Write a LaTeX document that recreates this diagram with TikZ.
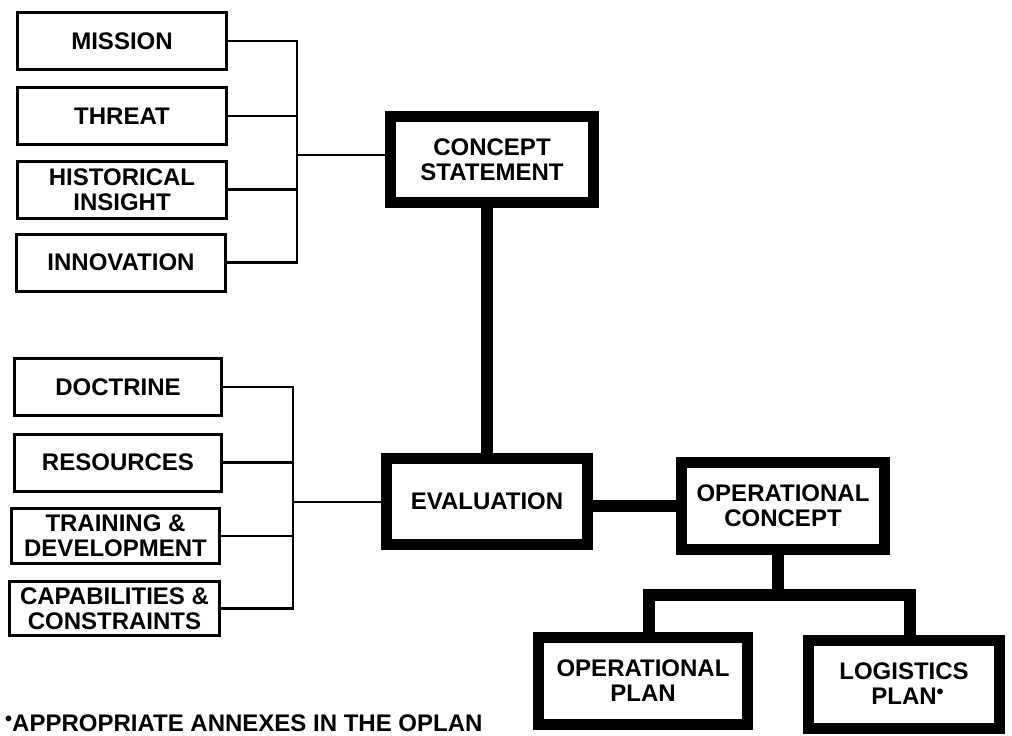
\documentclass[tikz,border=0pt]{standalone}
\usepackage{fontspec}
\setmainfont{Liberation Sans}
\newcommand\lblfont{\fontsize{24}{25}\selectfont\bfseries}
\newcommand\raisedot{\raisebox{6pt}{\fontsize{20}{20}\selectfont •}}
\begin{document}
\begin{tikzpicture}[x=1pt,y=-1pt,
  thinbox/.style={draw, line width=3pt, fill=white, inner sep=0pt, align=center, font=\lblfont, minimum width=209pt, minimum height=57pt},
  thickbox/.style={draw, line width=11pt, fill=white, inner sep=0pt, align=center, font=\lblfont},
  thinline/.style={line width=2.5pt},
  thickline/.style={line width=12pt, line join=miter},
]
\useasboundingbox (0,0) rectangle (1012,736);
\clip (0,0) rectangle (1012,736);
\fill[white] (0,0) rectangle (1012,736);

% junctions
\coordinate (j1) at (297,155);
\coordinate (j2) at (293,502);
\coordinate (jb) at (778,595);
\coordinate (bl) at (649,595);
\coordinate (br) at (910,595);

% thin boxes, upper group
\node[thinbox] (mission) at (122,41) {MISSION};
\node[thinbox] (threat) at (122,116) {THREAT};
\node[thinbox] (hist) at (122,189.5) {HISTORICAL\\INSIGHT};
\node[thinbox] (innov) at (121,262.5) {INNOVATION};

% thin boxes, lower group
\node[thinbox, minimum width=207pt] (doctrine) at (118,387) {DOCTRINE};
\node[thinbox, minimum width=207pt] (resources) at (118,462.5) {RESOURCES};
\node[thinbox, minimum width=208pt, minimum height=55pt] (training) at (115.5,536) {TRAINING \&\\DEVELOPMENT};
\node[thinbox, minimum width=210pt, minimum height=54pt] (capab) at (114.5,608.5) {CAPABILITIES \&\\CONSTRAINTS};

% thick boxes
\node[thickbox, minimum width=203pt, minimum height=86pt] (concept) at (492,159.5) {CONCEPT\\STATEMENT};
\node[thickbox, minimum width=201pt, minimum height=86pt] (eval) at (487,501.5) {EVALUATION};
\node[thickbox, minimum width=203pt, minimum height=87pt] (opconc) at (783,506) {OPERATIONAL\\CONCEPT};
\node[thickbox, minimum width=209pt, minimum height=87pt] (opplan) at (643,681) {OPERATIONAL\\PLAN};
\node[thickbox, minimum width=191pt, minimum height=88pt] (logis) at (904,684) {LOGISTICS\\PLAN\rlap{\raisedot}};

% thin connectors
\draw[thinline] (mission.east) -| (j1);
\draw[thinline] (threat.east) -- (threat.east -| j1);
\draw[thinline] (hist.east) -- (hist.east -| j1);
\draw[thinline] (innov.east) -| (j1);
\draw[thinline] (j1) -- (j1 -| concept.west);

\draw[thinline] (doctrine.east) -| (j2);
\draw[thinline] (resources.east) -- (resources.east -| j2);
\draw[thinline] (training.east) -- (training.east -| j2);
\draw[thinline] (capab.east) -| (j2);
\draw[thinline] (j2) -- (j2 -| eval.west);

% thick connectors
\draw[thickline] (eval.north) -- (eval.north |- concept.south);
\draw[thickline] (eval.east |- opconc.west) -- (opconc.west);
\draw[thickline] (jb |- opconc.south) -- (jb);
\draw[thickline] (bl |- opplan.north) -- (bl) -- (br) -- (br |- logis.north);

% footnote
\node[anchor=base west, inner sep=0pt, font=\lblfont] (note) at (5,731) {\raisedot APPROPRIATE ANNEXES IN THE OPLAN};
\end{tikzpicture}
\end{document}
